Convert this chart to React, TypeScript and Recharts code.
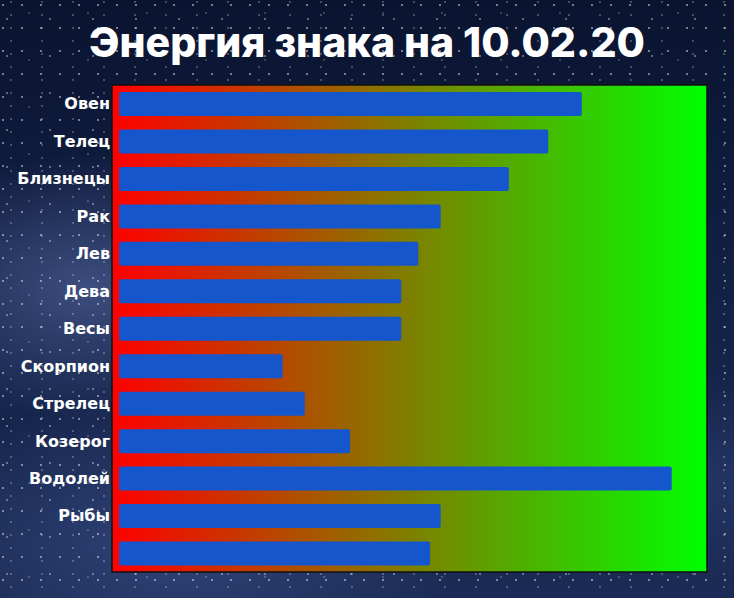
import { BarChart, Bar, XAxis, YAxis, CartesianGrid, ReferenceArea } from "recharts"

// знаки зодиака (последняя строка без подписи)
const SIGNS = [
  "Овен", "Телец", "Близнецы", "Рак", "Лев", "Дева", "Весы",
  "Скорпион", "Стрелец", "Козерог", "Водолей", "Рыбы", "",
]
const ENERGY = [78.7, 73.0, 66.3, 54.7, 50.9, 48.0, 48.0, 27.8, 31.6, 39.3, 94.0, 54.7, 52.9]
const X_DOMAIN: [number, number] = [-1.2, 100]

const data = SIGNS.map((sign, i) => ({ sign, energy: ENERGY[i], key: `${i}-${sign}` }))

// звёздный фон: несколько сеток точек разного шага + светлые пятна млечного пути
const starry = [
  "radial-gradient(circle at 3px 5px, rgba(255,255,255,0.45) 0.7px, transparent 1.2px)",
  "radial-gradient(circle at 11px 2px, rgba(255,255,255,0.3) 0.6px, transparent 1.1px)",
  "radial-gradient(circle at 7px 19px, rgba(255,255,255,0.35) 0.9px, transparent 1.5px)",
  "radial-gradient(circle at 29px 13px, rgba(255,255,255,0.25) 0.6px, transparent 1.1px)",
  "radial-gradient(ellipse 40% 32% at 12% 48%, rgba(95,115,175,0.55), transparent 70%)",
  "radial-gradient(ellipse 55% 35% at 25% 90%, rgba(75,100,165,0.45), transparent 70%)",
  "radial-gradient(ellipse 30% 25% at 95% 80%, rgba(60,80,140,0.35), transparent 70%)",
  "linear-gradient(180deg, #0a1430 0%, #132146 50%, #1b2b55 100%)",
].join(",")

export default function App() {
  return (
    <div
      style={{
        position: "absolute",
        left: 0,
        top: 0,
        width: 734,
        height: 598,
        overflow: "hidden",
        backgroundImage: starry,
        backgroundSize:
          "19px 23px, 31px 13px, 43px 37px, 59px 47px, 100% 100%, 100% 100%, 100% 100%, 100% 100%",
      }}
    >
      {/* заголовок */}
      <div
        style={{
          position: "absolute",
          top: 14,
          left: 0,
          width: 734,
          textAlign: "center",
          color: "#fff",
          fontFamily: "Inter, 'Open Sans', sans-serif",
          fontWeight: 800,
          fontSize: 41,
          lineHeight: "56px",
        }}
      >
        Энергия знака на 10.02.20
      </div>
      <BarChart
        width={734}
        height={598}
        data={data}
        layout="vertical"
        margin={{ top: 85, right: 27, bottom: 26, left: 0 }}
        barSize={24}
        style={{ position: "absolute", left: 0, top: 0 }}
      >
        <defs>
          <linearGradient id="energyBg" x1="0" y1="0" x2="1" y2="0">
            <stop offset="0%" stopColor="#ff0000" />
            <stop offset="50%" stopColor="#7f7f00" />
            <stop offset="100%" stopColor="#00ff00" />
          </linearGradient>
        </defs>
        <CartesianGrid horizontal={false} vertical={false} fill="url(#energyBg)" fillOpacity={1} />
        <XAxis type="number" domain={X_DOMAIN} hide allowDataOverflow />
        <YAxis
          type="category"
          dataKey="sign"
          width={112}
          axisLine={false}
          tickLine={false}
          tickSize={0}
          tickMargin={2}
          interval={0}
          tick={{ fill: "#fff", fontSize: 16, fontWeight: 700, fontFamily: "'DejaVu Sans', sans-serif" }}
        />
        <ReferenceArea x1={X_DOMAIN[0]} x2={X_DOMAIN[1]} fill="none" stroke="#111" strokeWidth={1.5} />
        <Bar dataKey="energy" fill="#1656cc" radius={2} isAnimationActive={false} />
      </BarChart>
    </div>
  )
}
